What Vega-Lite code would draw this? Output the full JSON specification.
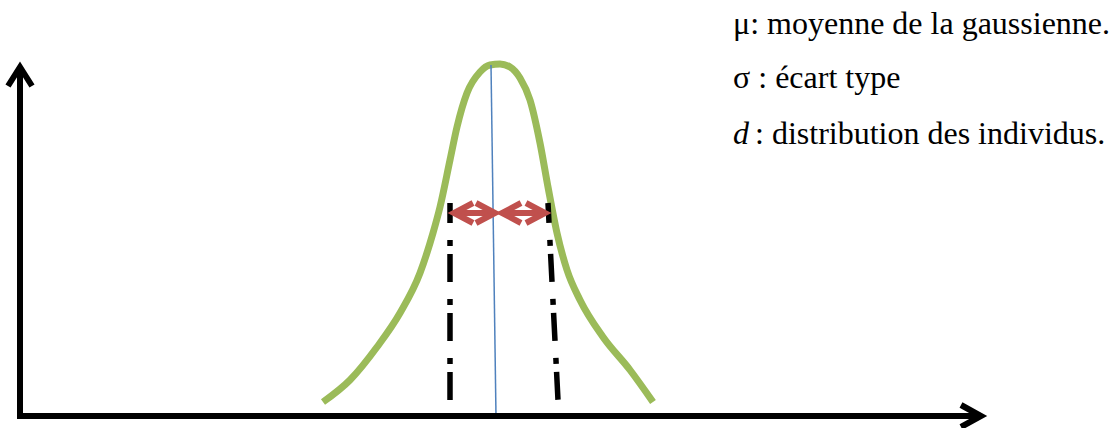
{
  "$schema": "https://vega.github.io/schema/vega-lite/v6.json",
  "width": 1113,
  "height": 428,
  "autosize": {"type": "none"},
  "padding": 0,
  "background": "white",
  "config": {"view": {"stroke": null}},
  "datasets": {
    "curve": [
      {"x": 323, "y": 402}, {"x": 350, "y": 380}, {"x": 377, "y": 347}, {"x": 400, "y": 313},
      {"x": 420, "y": 273}, {"x": 433, "y": 233}, {"x": 440, "y": 207}, {"x": 450, "y": 160},
      {"x": 457, "y": 127}, {"x": 467, "y": 93}, {"x": 480, "y": 72}, {"x": 490, "y": 65},
      {"x": 500, "y": 64}, {"x": 510, "y": 67}, {"x": 520, "y": 78}, {"x": 530, "y": 100},
      {"x": 540, "y": 143}, {"x": 548, "y": 187}, {"x": 557, "y": 233}, {"x": 567, "y": 270},
      {"x": 580, "y": 300}, {"x": 603, "y": 337}, {"x": 630, "y": 370}, {"x": 653, "y": 402}
    ],
    "shapes": [
      {"g": "yaxis", "kind": "axis", "o": 1, "x": 20, "y": 417},
      {"g": "yaxis", "kind": "axis", "o": 2, "x": 20, "y": 70},
      {"g": "xaxis", "kind": "axis", "o": 1, "x": 17, "y": 416},
      {"g": "xaxis", "kind": "axis", "o": 2, "x": 978, "y": 416},
      {"g": "yhead", "kind": "axis", "o": 1, "x": 8, "y": 86},
      {"g": "yhead", "kind": "axis", "o": 2, "x": 20, "y": 67},
      {"g": "yhead", "kind": "axis", "o": 3, "x": 32, "y": 86},
      {"g": "xhead", "kind": "axis", "o": 1, "x": 961, "y": 405},
      {"g": "xhead", "kind": "axis", "o": 2, "x": 981, "y": 416},
      {"g": "xhead", "kind": "axis", "o": 3, "x": 961, "y": 427},
      {"g": "s1", "kind": "sigma", "o": 1, "x": 454, "y": 213},
      {"g": "s1", "kind": "sigma", "o": 2, "x": 495, "y": 213},
      {"g": "h1a", "kind": "sigma", "o": 1, "x": 473, "y": 203},
      {"g": "h1a", "kind": "sigma", "o": 2, "x": 454, "y": 213},
      {"g": "h1a", "kind": "sigma", "o": 3, "x": 473, "y": 223},
      {"g": "h1b", "kind": "sigma", "o": 1, "x": 476, "y": 203},
      {"g": "h1b", "kind": "sigma", "o": 2, "x": 495, "y": 213},
      {"g": "h1b", "kind": "sigma", "o": 3, "x": 476, "y": 223},
      {"g": "s2", "kind": "sigma", "o": 1, "x": 502, "y": 213},
      {"g": "s2", "kind": "sigma", "o": 2, "x": 545, "y": 213},
      {"g": "h2a", "kind": "sigma", "o": 1, "x": 521, "y": 203},
      {"g": "h2a", "kind": "sigma", "o": 2, "x": 502, "y": 213},
      {"g": "h2a", "kind": "sigma", "o": 3, "x": 521, "y": 223},
      {"g": "h2b", "kind": "sigma", "o": 1, "x": 526, "y": 203},
      {"g": "h2b", "kind": "sigma", "o": 2, "x": 545, "y": 213},
      {"g": "h2b", "kind": "sigma", "o": 3, "x": 526, "y": 223}
    ],
    "mean": [{"x": 491, "y": 65, "x2": 496, "y2": 416}],
    "bounds": [
      {"x": 450, "y": 203, "x2": 450, "y2": 400},
      {"x": 548, "y": 203, "x2": 558, "y2": 400}
    ],
    "labels": [
      {"x": 733, "y": 34, "t": "μ: moyenne de la gaussienne."},
      {"x": 733, "y": 88, "t": "σ : écart type"},
      {"x": 755, "y": 144, "t": ": distribution des individus."}
    ],
    "italic": [
      {"x": 733, "y": 144, "t": "d"}
    ]
  },
  "layer": [
    {
      "data": {"name": "curve"},
      "mark": {"type": "line", "interpolate": "monotone", "color": "#9BBB59", "strokeWidth": 7, "strokeCap": "butt"},
      "encoding": {
        "x": {"field": "x", "type": "quantitative", "scale": {"domain": [0, 1113], "nice": false, "zero": false}, "axis": null},
        "y": {"field": "y", "type": "quantitative", "scale": {"domain": [428, 0], "nice": false, "zero": false}, "axis": null}
      }
    },
    {
      "data": {"name": "mean"},
      "mark": {"type": "rule", "color": "#4F81BD", "strokeWidth": 1.5},
      "encoding": {
        "x": {"field": "x", "type": "quantitative"},
        "y": {"field": "y", "type": "quantitative"},
        "x2": {"field": "x2"},
        "y2": {"field": "y2"}
      }
    },
    {
      "data": {"name": "bounds"},
      "mark": {"type": "rule", "color": "black", "strokeWidth": 5.5, "strokeDash": [28, 17, 6, 8], "strokeDashOffset": 8},
      "encoding": {
        "x": {"field": "x", "type": "quantitative"},
        "y": {"field": "y", "type": "quantitative"},
        "x2": {"field": "x2"},
        "y2": {"field": "y2"}
      }
    },
    {
      "data": {"name": "shapes"},
      "mark": {"type": "line", "strokeWidth": 6, "strokeJoin": "miter", "strokeCap": "butt"},
      "encoding": {
        "x": {"field": "x", "type": "quantitative"},
        "y": {"field": "y", "type": "quantitative"},
        "detail": {"field": "g"},
        "order": {"field": "o"},
        "color": {"field": "kind", "type": "nominal", "scale": {"domain": ["axis", "sigma"], "range": ["#000000", "#C0504D"]}, "legend": null}
      }
    },
    {
      "data": {"name": "labels"},
      "mark": {"type": "text", "font": "Liberation Serif", "fontSize": 32, "align": "left", "baseline": "alphabetic", "color": "black"},
      "encoding": {
        "x": {"field": "x", "type": "quantitative"},
        "y": {"field": "y", "type": "quantitative"},
        "text": {"field": "t"}
      }
    },
    {
      "data": {"name": "italic"},
      "mark": {"type": "text", "font": "Liberation Serif", "fontSize": 32, "fontStyle": "italic", "align": "left", "baseline": "alphabetic", "color": "black"},
      "encoding": {
        "x": {"field": "x", "type": "quantitative"},
        "y": {"field": "y", "type": "quantitative"},
        "text": {"field": "t"}
      }
    }
  ]
}
